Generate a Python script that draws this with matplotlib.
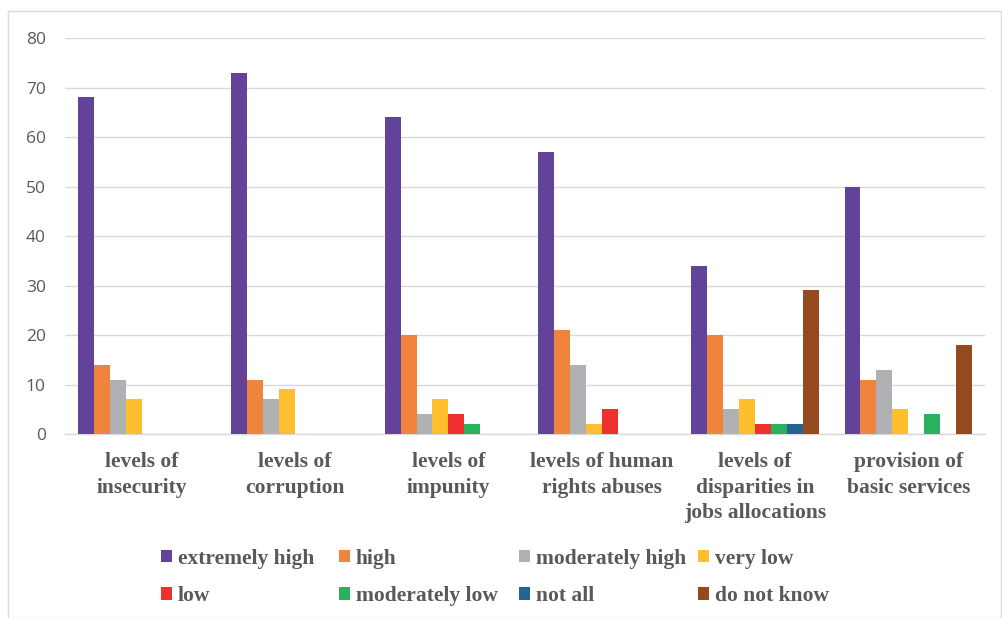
import matplotlib
matplotlib.use("Agg")
import matplotlib.pyplot as plt
import numpy as np
from matplotlib.patches import Rectangle

categories = ["levels of\ninsecurity", "levels of\ncorruption", "levels of\nimpunity",
              "levels of human\nrights abuses", "levels of\ndisparities in\njobs allocations",
              "provision of\nbasic services"]
series_names = ["extremely high", "high", "moderately high", "very low",
                "low", "moderately low", "not all", "do not know"]
extremely_high = [68, 73, 64, 57, 34, 50]
high = [14, 11, 20, 21, 20, 11]
moderately_high = [11, 7, 4, 14, 5, 13]
very_low = [7, 9, 7, 2, 7, 5]
low = [0, 0, 4, 5, 2, 0]
moderately_low = [0, 0, 2, 0, 2, 4]
not_all = [0, 0, 0, 0, 2, 0]
do_not_know = [0, 0, 0, 0, 29, 18]
series_values = [extremely_high, high, moderately_high, very_low,
                 low, moderately_low, not_all, do_not_know]
colors = ["#634299", "#F0843C", "#B0B1B5", "#FDBF2D",
          "#EE312E", "#29B25D", "#236495", "#954A1E"]
yticks = [0, 10, 20, 30, 40, 50, 60, 70, 80]

fig = plt.figure(figsize=(10.03, 6.18), dpi=100)
fig.patches.append(Rectangle((0.008, 0.0), 0.99, 0.982, transform=fig.transFigure,
                             fill=False, edgecolor="#D9D9D9", linewidth=1))
ax = fig.add_axes([0.065, 0.2977, 0.917, 0.6408])

x = np.arange(len(categories))
w = 0.104
n = len(series_names)
handles = []
for i, (name, vals, c) in enumerate(zip(series_names, series_values, colors)):
    pos = x + (i - (n - 1) / 2) * w
    b = ax.bar(pos, vals, width=w, color=c, label=name, zorder=3)
    handles.append(b)

ax.set_xlim(-0.5, len(categories) - 0.5)
ax.set_ylim(0, 80)
ax.set_yticks(yticks)
ax.yaxis.grid(True, color="#D9D9D9", linewidth=1, zorder=0)
ax.set_axisbelow(True)
for s in ["top", "right", "left"]:
    ax.spines[s].set_visible(False)
ax.spines["bottom"].set_color("#D9D9D9")
ax.spines["bottom"].set_linewidth(1)
ax.tick_params(axis="y", length=0, pad=14, labelsize=12.5, labelcolor="#595959")
for t in ax.get_yticklabels():
    t.set_fontfamily("Open Sans")
ax.set_xticks(x)
ax.set_xticklabels(categories, fontfamily="Liberation Serif", fontweight="bold",
                   fontsize=15.5, color="#595959", linespacing=1.38)
ax.tick_params(axis="x", length=0, pad=13)

legend_font = {"family": "Liberation Serif", "weight": "bold", "size": 15.5}
col_x = [161, 339, 519, 698]
fig_w = 1003.0
for col in range(4):
    idx = [col, col + 4]
    lg = fig.legend([handles[i] for i in idx], [series_names[i] for i in idx],
                    loc="center left", bbox_to_anchor=(col_x[col] / fig_w, 0.0655),
                    frameon=False, handlelength=0.52, handleheight=0.52,
                    handletextpad=0.25, labelspacing=0.81, borderpad=0,
                    borderaxespad=0, prop=legend_font)
    for t in lg.get_texts():
        t.set_color("#595959")

fig.savefig("out.png", dpi=100)
